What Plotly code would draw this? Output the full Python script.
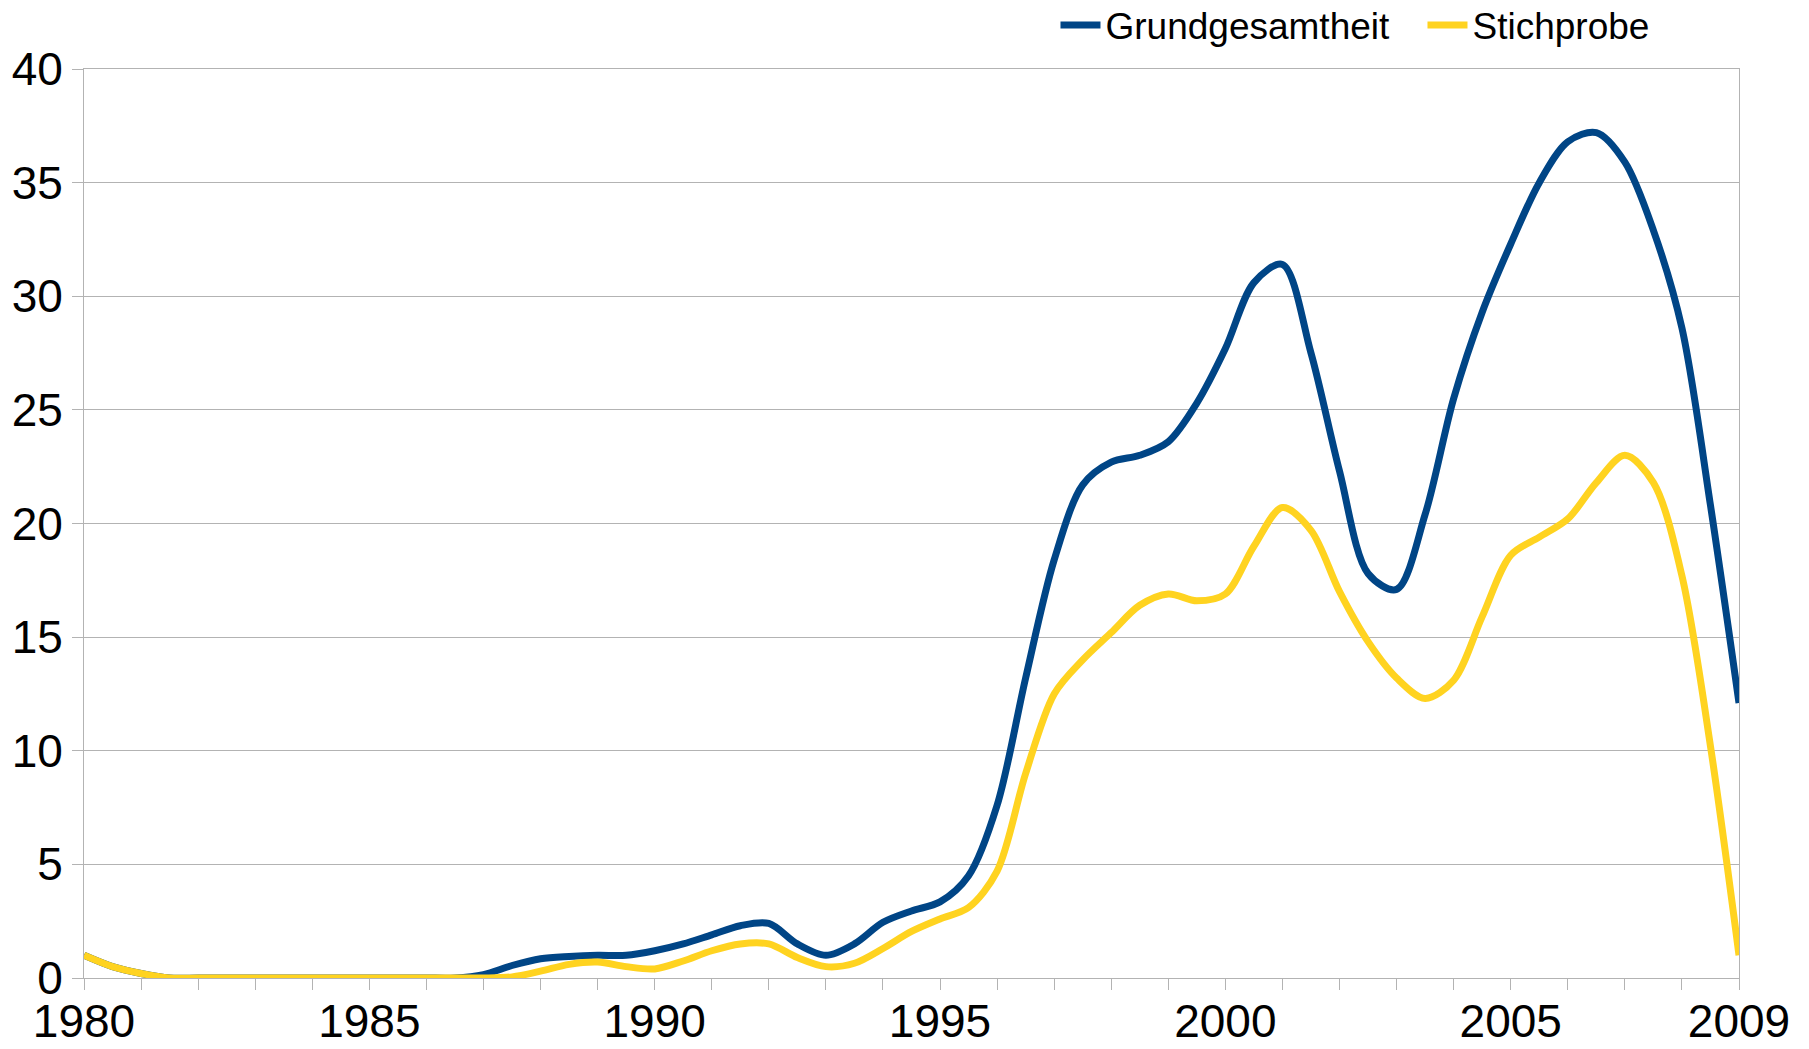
import plotly.graph_objects as go

# Halbjahreswerte
jahre = [1980, 1980.5, 1981, 1981.5, 1982, 1982.5, 1983, 1983.5, 1984, 1984.5,
         1985, 1985.5, 1986, 1986.5, 1987, 1987.5, 1988, 1988.5, 1989, 1989.5,
         1990, 1990.5, 1991, 1991.5, 1992, 1992.5, 1993, 1993.5, 1994, 1994.5,
         1995, 1995.5, 1996, 1996.5, 1997, 1997.5, 1998, 1998.5, 1999, 1999.5,
         2000, 2000.5, 2001, 2001.5, 2002, 2002.5, 2003, 2003.5, 2004, 2004.5,
         2005, 2005.5, 2006, 2006.5, 2007, 2007.5, 2008, 2008.5, 2009]

grundgesamtheit = [1.0, 0.5, 0.2, 0.0, 0, 0, 0, 0, 0, 0,
                   0, 0, 0, 0, 0.15, 0.55, 0.85, 0.95, 1.0, 1.0,
                   1.2, 1.5, 1.9, 2.3, 2.4, 1.5, 1.0, 1.5, 2.45, 2.95,
                   3.35, 4.5, 7.6, 13.2, 18.4, 21.7, 22.7, 23.0, 23.6, 25.3,
                   27.7, 30.6, 31.4, 27.5, 22.3, 17.8, 17.1, 20.4, 25.5, 29.3,
                   32.3, 35.0, 36.8, 37.2, 35.9, 32.9, 28.6, 20.8, 12.1]

stichprobe = [1.0, 0.5, 0.2, 0.0, 0, 0, 0, 0, 0, 0,
              0, 0, 0, 0, 0, 0.05, 0.3, 0.6, 0.7, 0.5,
              0.4, 0.75, 1.2, 1.5, 1.5, 0.9, 0.5, 0.65, 1.3, 2.05,
              2.6, 3.1, 4.7, 9.0, 12.5, 14.0, 15.2, 16.4, 16.9, 16.6,
              16.9, 19.0, 20.7, 19.7, 17.0, 14.8, 13.2, 12.3, 13.1, 15.9,
              18.6, 19.4, 20.2, 21.8, 23.0, 21.8, 17.7, 10.2, 1.0]

tick_jahre = [1980, 1981, 1982, 1983, 1984, 1985, 1986, 1987, 1988, 1989,
              1990, 1991, 1992, 1993, 1994, 1995, 1996, 1997, 1998, 1999,
              2000, 2001, 2002, 2003, 2004, 2005, 2006, 2007, 2008, 2009]
tick_text = ["1980", "", "", "", "", "1985", "", "", "", "",
             "1990", "", "", "", "", "1995", "", "", "", "",
             "2000", "", "", "", "", "2005", "", "", "", "2009"]

grau = '#b3b3b3'

fig = go.Figure()
fig.add_trace(go.Scatter(
    x=jahre, y=grundgesamtheit, name='Grundgesamtheit', mode='lines',
    line=dict(color='#004586', width=7, shape='spline', smoothing=0.9),
))
fig.add_trace(go.Scatter(
    x=jahre, y=stichprobe, name='Stichprobe', mode='lines',
    line=dict(color='#ffd320', width=7, shape='spline', smoothing=0.9),
))

fig.update_xaxes(
    range=[1980, 2009], tickvals=tick_jahre, ticktext=tick_text,
    ticks='outside', ticklen=11, tickcolor=grau, tickwidth=1,
    showline=True, linecolor=grau, linewidth=1, mirror=True,
    showgrid=False, zeroline=False, automargin=False,
    ticklabelstandoff=-8,
    tickfont=dict(size=46, color='black'),
)
fig.update_yaxes(
    range=[0, 40], dtick=5,
    ticks='outside', ticklen=11, tickcolor=grau, tickwidth=1,
    showline=True, linecolor=grau, linewidth=1, mirror=True,
    showgrid=True, gridcolor=grau, gridwidth=1, zeroline=False, automargin=False,
    tickfont=dict(size=46, color='black'),
)
# Seite hat 8px body-Rand -> Figur etwas kleiner
fig.update_layout(
    width=1801, height=1041,
    margin=dict(l=76, r=70, t=61, b=71, autoexpand=False),
    plot_bgcolor='white', paper_bgcolor='white',
    font=dict(family='Liberation Sans, Arial, sans-serif', color='black'),
    legend=dict(orientation='h', x=0.587, xanchor='left', y=1.048, yanchor='middle',
                font=dict(size=37), bgcolor='rgba(0,0,0,0)', itemwidth=40,
                entrywidth=312, entrywidthmode='pixels',
                traceorder='normal'),
)

fig.write_html("out.html")
